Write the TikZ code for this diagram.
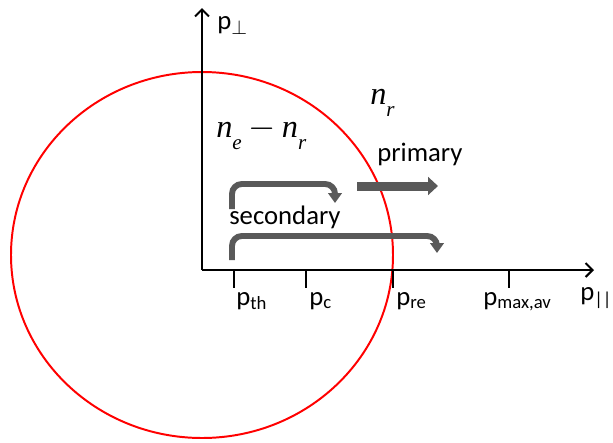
\documentclass[tikz,border=0pt]{standalone}
\usepackage{fontspec}
\setmainfont{Carlito}
\newfontfamily\tms{Liberation Serif}
\usetikzlibrary{arrows.meta}
\definecolor{arrgray}{HTML}{595959}
\newcommand{\dens}[1]{\textit{n}\raisebox{-0.38em}{\fontsize{15}{15}\selectfont\textit{#1}}}
\tikzset{
  axis/.style={line width=1.4pt,-{Straight Barb[length=5pt,width=10pt,line width=1.4pt]}},
  tick/.style={line width=1.4pt},
  lab/.style={anchor=base west,inner sep=0pt,font=\fontsize{19}{23}\selectfont},
  mlab/.style={anchor=base west,inner sep=0pt,font=\fontsize{23}{27}\selectfont\tms},
  bent/.style={arrgray,line width=4.2pt,rounded corners=7pt,-{Triangle[length=7pt,width=9.5pt]}},
  fat/.style={arrgray,line width=6.4pt,-{Triangle[length=7pt,width=12.5pt]}}
}
\begin{document}
\begin{tikzpicture}[x=0.025cm,y=-0.025cm]
\useasboundingbox (0,0) rectangle (613,442);
% distribution boundary
\draw[red,line width=1.4pt] (202,255) ellipse [x radius=191,y radius=183];
% axes
\coordinate(O) at (202,270);
\coordinate(Xend) at (594,270);
\coordinate(Yend) at (202,8);
\draw[axis](O)--(Xend);
\draw[axis](O)--(Yend);
\node[lab](Xlab) at (580,300){p\textsubscript{||}};
\node[lab](Ylab) at (217,29){p$_\perp$};
% ticks
\coordinate(T1) at (234,270); \coordinate(T1b) at (234,288);
\coordinate(T2) at (306,270); \coordinate(T2b) at (306,288);
\coordinate(T3) at (393,270); \coordinate(T3b) at (393,288);
\coordinate(T4) at (509,270); \coordinate(T4b) at (509,288);
\draw[tick](T1)--(T1b) (T2)--(T2b) (T3)--(T3b) (T4)--(T4b);
\node[lab](Pth) at (236,305){p\textsubscript{th}};
\node[lab](Pc) at (309,305){p\textsubscript{c}};
\node[lab](Pre) at (396,305){p\textsubscript{re}};
\node[lab](Pmax) at (483,305){p\textsubscript{max,av}};
% densities
\node[mlab](Ner) at (216,137){\dens{e}\hspace{0.2em}$-$\hspace{0.2em}\dens{r}};
\node[mlab](Nr) at (370,104){\dens{r}};
% arrows
\node[lab](Prim) at (377,161){primary};
\node[lab](Sec) at (229,224){secondary};
\coordinate(A1) at (232,209); \coordinate(A1e) at (335,203);
\coordinate(A2) at (232,260); \coordinate(A2e) at (437,253);
\coordinate(P1) at (357,186); \coordinate(P1e) at (438,186);
\draw[bent](A1)|-(300,184)-|(A1e);
\draw[bent](A2)|-(380,236)-|(A2e);
\draw[fat](P1)--(P1e);
\end{tikzpicture}
\end{document}
